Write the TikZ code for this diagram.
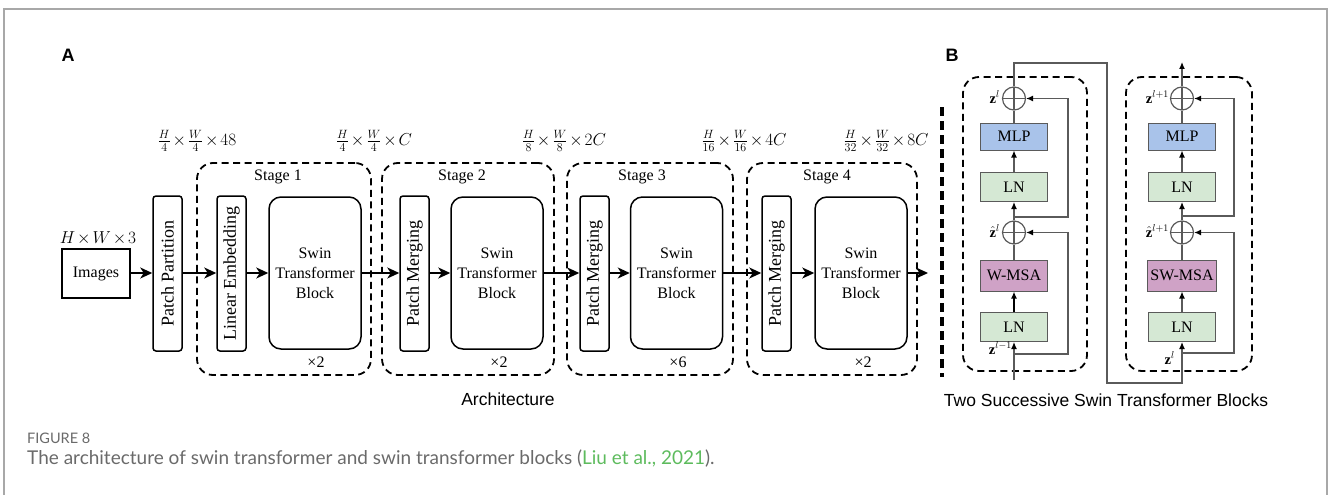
\documentclass[tikz,border=0pt]{standalone}
\usepackage{fontspec}
\setmainfont{Liberation Serif}
\setsansfont{Liberation Sans}
\newfontfamily\capfont{Lato}
\usetikzlibrary{arrows.meta}

\definecolor{mlpblue}{HTML}{A9C3EA}
\definecolor{lngreen}{HTML}{D5E8D4}
\definecolor{msapink}{HTML}{CFA2C6}
\definecolor{framegray}{HTML}{A8A8A8}
\definecolor{capgray}{HTML}{6A6A6A}
\definecolor{citegreen}{HTML}{5DBB5D}
\definecolor{wirecol}{HTML}{5A5A5A}

\tikzset{
  % main pipeline
  flow/.style={line width=1.6pt, -{Stealth[length=12pt,width=11pt,inset=3.5pt]}},
  imgbox/.style={draw, line width=1.5pt, minimum width=68pt, minimum height=49pt, inner sep=0pt,
    font=\fontsize{16}{19}\selectfont},
  tallbox/.style={draw, line width=1.5pt, rounded corners=3pt, minimum width=29pt,
    minimum height=155pt, inner sep=0pt},
  vtext/.style={rotate=90, font=\fontsize{18}{20}\selectfont, inner sep=0pt},
  swinbox/.style={draw, line width=1.5pt, rounded corners=12pt, minimum width=92pt,
    minimum height=152pt, inner sep=0pt, align=center, font=\fontsize{16}{20}\selectfont},
  stagebox/.style={draw, line width=1.8pt, dash pattern=on 7pt off 4.5pt, rounded corners=16pt,
    minimum width=174pt, minimum height=212pt, inner sep=0pt},
  txt/.style={font=\fontsize{16}{19}\selectfont, inner sep=0pt},
  dimtxt/.style={font=\fontsize{16.5}{19}\selectfont, inner sep=0pt},
  panel/.style={font=\fontsize{18}{20}\selectfont\sffamily\bfseries, inner sep=0pt},
  sans/.style={font=\fontsize{17.5}{20}\selectfont\sffamily, inner sep=0pt},
  % transformer block details
  layer/.style={draw=wirecol, line width=1pt, minimum width=67pt, minimum height=29pt,
    inner sep=0pt, font=\fontsize{16}{19}\selectfont},
  addop/.style={circle, draw=wirecol, line width=1.2pt, minimum size=23pt, inner sep=0pt,
    path picture={\draw[wirecol, line width=1.2pt]
      (path picture bounding box.north) -- (path picture bounding box.south)
      (path picture bounding box.west) -- (path picture bounding box.east);}},
  wire/.style={draw=wirecol, line width=1.2pt},
  warr/.style={wire, -{Latex[length=7pt,width=6pt,color=black]}},
  blockbox/.style={draw, line width=1.8pt, dash pattern=on 7pt off 4.5pt, rounded corners=16pt,
    inner sep=0pt},
  zlab/.style={font=\fontsize{14.5}{16}\selectfont, inner sep=0pt}
}
% compact products in the size annotations
\newcommand\dimsz[1]{$\medmuskip=2mu #1$}

\begin{document}
\begin{tikzpicture}[x=1pt, y=-1pt]
\useasboundingbox (0,0) rectangle (1330,495);

% page frame
\draw[framegray, line width=1.5pt] (4,496) -- (4,9) -- (1327,9) -- (1327,496);

% panel letters
\node[panel] (pA) at (68,55) {A};
\node[panel] (pB) at (952,55) {B};

% ---------------- architecture ----------------
\node[stagebox] (st1) at (284,269) {};
\node[stagebox, minimum width=172pt] (st2) at (468,269) {};
\node[stagebox, minimum width=166pt] (st3) at (650,269) {};
\node[stagebox, minimum width=170pt] (st4) at (832,269) {};

\node[txt] (st1l) at (278,177) {Stage 1};
\node[txt] (st2l) at (462,177) {Stage 2};
\node[txt] (st3l) at (642,177) {Stage 3};
\node[txt] (st4l) at (827,177) {Stage 4};

\node[txt] (rep1) at (316,362) {×2};
\node[txt] (rep2) at (499,362) {×2};
\node[txt] (rep3) at (678,362) {×6};
\node[txt] (rep4) at (863,362) {×2};

\node[imgbox] (img) at (96,273.5) {Images};
\node[dimtxt] (d0) at (98,238) {\dimsz{H\times W\times 3}};

\node[tallbox] (pp) at (167.5,273.5) {};
\node[vtext] (ppt) at (pp) {Patch Partition};
\node[tallbox] (le) at (231.5,273.5) {};
\node[vtext] (let) at (le) {Linear Embedding};
\node[swinbox] (sw1) at (315,273) {Swin\\Transformer\\Block};

\node[tallbox] (pm2) at (414.5,273.5) {};
\node[vtext] (pm2t) at (pm2) {Patch Merging};
\node[swinbox] (sw2) at (497,273) {Swin\\Transformer\\Block};

\node[tallbox] (pm3) at (594.5,273.5) {};
\node[vtext] (pm3t) at (pm3) {Patch Merging};
\node[swinbox] (sw3) at (676.5,273) {Swin\\Transformer\\Block};

\node[tallbox] (pm4) at (776.5,273.5) {};
\node[vtext] (pm4t) at (pm4) {Patch Merging};
\node[swinbox] (sw4) at (861,273) {Swin\\Transformer\\Block};
\coordinate (outA) at (928,273);

\node[dimtxt] (d1) at (197,141) {\dimsz{\frac{H}{4}\times\frac{W}{4}\times 48}};
\node[dimtxt] (d2) at (374,141) {\dimsz{\frac{H}{4}\times\frac{W}{4}\times C}};
\node[dimtxt] (d3) at (564,141) {\dimsz{\frac{H}{8}\times\frac{W}{8}\times 2C}};
\node[dimtxt] (d4) at (744,141) {\dimsz{\frac{H}{16}\times\frac{W}{16}\times 4C}};
\node[dimtxt] (d5) at (886,141) {\dimsz{\frac{H}{32}\times\frac{W}{32}\times 8C}};

\draw[flow] (img.east |- 0,273) -- (pp.west |- 0,273);
\draw[flow] (pp.east |- 0,273) -- (le.west |- 0,273);
\draw[flow] (le.east |- 0,273) -- (sw1.west |- 0,273);
\draw[flow] (sw1.east |- 0,273) -- (pm2.west |- 0,273);
\draw[flow] (pm2.east |- 0,273) -- (sw2.west |- 0,273);
\draw[flow] (sw2.east |- 0,273) -- (pm3.west |- 0,273);
\draw[flow] (pm3.east |- 0,273) -- (sw3.west |- 0,273);
\draw[flow] (sw3.east |- 0,273) -- (pm4.west |- 0,273);
\draw[flow] (pm4.east |- 0,273) -- (sw4.west |- 0,273);
\draw[flow] (sw4.east |- 0,273) -- (outA);

\node[sans] (archl) at (508,399) {Architecture};

% separator
\draw[line width=3.2pt, dash pattern=on 9pt off 5pt] (942,107) -- (942,377);

% ---------------- two successive blocks ----------------
\node[blockbox, minimum width=124pt, minimum height=294pt] (blk1) at (1025,224) {};
\node[blockbox, minimum width=126pt, minimum height=294pt] (blk2) at (1189,224) {};

% first block (W-MSA)
\node[layer, fill=lngreen] (ln1b) at (1014,327) {LN};
\node[layer, fill=msapink, minimum height=31pt] (wmsa) at (1014,275.5) {W-MSA};
\node[addop] (c1b) at (1014,232.5) {};
\node[layer, fill=lngreen] (ln1a) at (1014,187) {LN};
\node[layer, fill=mlpblue, minimum height=27pt] (mlp1) at (1014,136.5) {MLP};
\node[addop] (c1a) at (1014,98.5) {};

% second block (SW-MSA)
\node[layer, fill=lngreen] (ln2b) at (1182,327) {LN};
\node[layer, fill=msapink, minimum height=31pt, minimum width=69pt] (swmsa) at (1182,275.5) {SW-MSA};
\node[addop] (c2b) at (1182,232.5) {};
\node[layer, fill=lngreen] (ln2a) at (1182,187) {LN};
\node[layer, fill=mlpblue, minimum height=27pt] (mlp2) at (1182,136.5) {MLP};
\node[addop] (c2a) at (1182,98.5) {};

% labels of the residual streams
\node[zlab, anchor=east] (z1) at (1000,97) {$\mathbf{z}^{l}$};
\node[zlab, anchor=east] (zh1) at (1000,231) {$\hat{\mathbf{z}}^{l}$};
\node[zlab, anchor=east] (zin1) at (1012,348) {$\mathbf{z}^{l-1}$};
\node[zlab, anchor=east] (z2) at (1169,97) {$\mathbf{z}^{l+1}$};
\node[zlab, anchor=east] (zh2) at (1169,231) {$\hat{\mathbf{z}}^{l+1}$};
\node[zlab, anchor=east] (zin2) at (1175,358) {$\mathbf{z}^{l}$};

% wiring, first block
\coordinate (in1) at (1014,380);
\coordinate (s1a) at (1014,354);
\coordinate (s1b) at (1014,217);
\coordinate (t1) at (1014,63);
\coordinate (t2) at (1107,383);
\draw[warr] (in1) -- (ln1b.south);
\draw[line width=1.6pt, -{Latex[length=7pt,width=6pt]}] (ln1b.north) -- (wmsa.south);
\draw[wire] (wmsa.north) -- (c1b.south);
\draw[warr] (c1b.north) -- (ln1a.south);
\draw[warr] (ln1a.north) -- (mlp1.south);
\draw[wire] (mlp1.north) -- (c1a.south);
\draw[warr] (s1a) -- ++(54,0) |- (c1b.east);
\draw[warr] (s1b) -- ++(54,0) |- (c1a.east);
\draw[warr] (c1a.north) -- (t1) -| (t2) -| (ln2b.south);

% wiring, second block
\coordinate (s2a) at (1182,353);
\coordinate (s2b) at (1182,216);
\coordinate (out2) at (1182,62);
\draw[warr] (ln2b.north) -- (swmsa.south);
\draw[wire] (swmsa.north) -- (c2b.south);
\draw[warr] (c2b.north) -- (ln2a.south);
\draw[warr] (ln2a.north) -- (mlp2.south);
\draw[wire] (mlp2.north) -- (c2a.south);
\draw[warr] (s2a) -- ++(52,0) |- (c2b.east);
\draw[warr] (s2b) -- ++(52,0) |- (c2a.east);
\draw[warr] (c2a.north) -- (out2);

\node[sans] (blkl) at (1106,400) {Two Successive Swin Transformer Blocks};

% ---------------- caption ----------------
\node[anchor=base west, inner sep=0pt, font=\fontsize{14.5}{16}\selectfont\capfont, text=capgray]
  (fig) at (27,443) {FIGURE 8};
\node[anchor=base west, inner sep=0pt, font=\fontsize{19}{21}\selectfont\capfont, text=capgray]
  (cap) at (27,464) {The architecture of swin transformer and swin transformer blocks
  (\textcolor{citegreen}{Liu et al., 2021}).};
\end{tikzpicture}
\end{document}
